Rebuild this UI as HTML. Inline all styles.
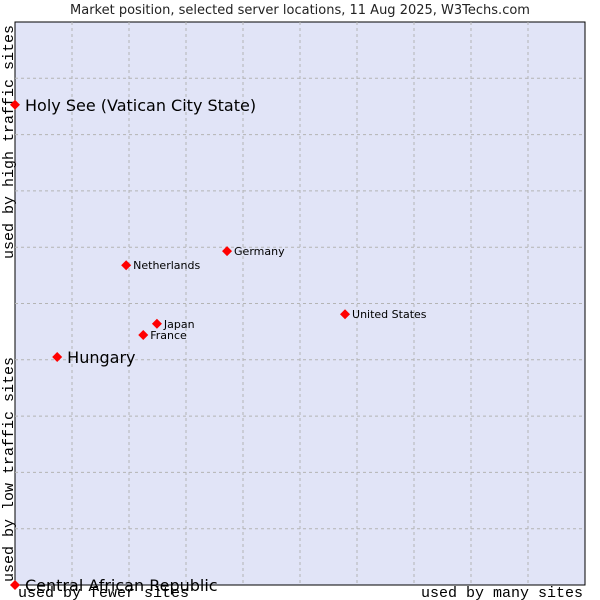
<!DOCTYPE html>
<html><head><meta charset="utf-8"><style>
body{margin:0;background:#fff;width:600px;height:600px;overflow:hidden}
svg{display:block}
</style></head><body>
<svg id="c" width="600" height="600">
<rect x="0" y="0" width="600" height="600" fill="#fff"/>
<text x="300" y="14" text-anchor="middle" font-family="'DejaVu Sans',sans-serif" font-size="13" fill="#222">Market position, selected server locations, 11 Aug 2025, W3Techs.com</text>
<rect id="plot" x="15" y="22" width="570" height="563" fill="#e1e4f7" stroke="#000" stroke-width="1"/>
<g id="grid"></g>
<text transform="translate(13,259) rotate(-90)" font-family="'Liberation Mono','DejaVu Sans Mono',monospace" font-size="15" fill="#000">used by high traffic sites</text>
<text transform="translate(13,582) rotate(-90)" font-family="'Liberation Mono','DejaVu Sans Mono',monospace" font-size="15" fill="#000">used by low traffic sites</text>
<text x="18" y="597" font-family="'Liberation Mono','DejaVu Sans Mono',monospace" font-size="15" fill="#000">used by fewer sites</text>
<text x="583" y="597" text-anchor="end" font-family="'Liberation Mono','DejaVu Sans Mono',monospace" font-size="15" fill="#000">used by many sites</text>
<g id="pts"></g>
</svg>
<script>
const names=["Holy See (Vatican City State)","Central African Republic","Hungary","Netherlands","Germany","United States","Japan","France"];
const xs=[0,0,7.4,19.5,37.2,57.9,24.9,22.5];
const ys=[85.3,0,40.5,56.8,59.3,48.1,46.4,44.4];
const big=[1,1,1,0,0,0,0,0];
const X0=15,X1=585,Y0=585,Y1=22;
const sx=v=>X0+v/100*(X1-X0), sy=v=>Y0-v/100*(Y0-Y1);
const NS="http://www.w3.org/2000/svg";
const g=document.getElementById('grid');
for(let i=1;i<10;i++){
 let l=document.createElementNS(NS,'line');
 l.setAttribute('x1',sx(i*10));l.setAttribute('x2',sx(i*10));l.setAttribute('y1',Y1);l.setAttribute('y2',Y0);
 l.setAttribute('stroke','#b4b4b4');l.setAttribute('stroke-dasharray','3,3');
 
 
 g.appendChild(l);
 let h=document.createElementNS(NS,'line');
 h.setAttribute('y1',sy(i*10));h.setAttribute('y2',sy(i*10));h.setAttribute('x1',X0);h.setAttribute('x2',X1);
 h.setAttribute('stroke','#b4b4b4');h.setAttribute('stroke-dasharray','3,3');
 
 
 g.appendChild(h);
}
const p=document.getElementById('pts');
names.forEach((n,i)=>{
 const x=sx(xs[i]),y=sy(ys[i]);
 let d=document.createElementNS(NS,'polygon');
 d.setAttribute('points',`${x},${y-5} ${x+5},${y} ${x},${y+5} ${x-5},${y}`);
 d.setAttribute('fill','#f00');
 
 
 p.appendChild(d);
 let t=document.createElementNS(NS,'text');
 t.setAttribute('x',x+(big[i]?10:7));t.setAttribute('y',y+(big[i]?6:4));
 t.setAttribute('font-family',"'DejaVu Sans',sans-serif");
 t.setAttribute('font-size',big[i]?16:11);t.setAttribute('fill','#000');
 t.textContent=n;
 
 
 p.appendChild(t);
});
</script>
</body></html>
